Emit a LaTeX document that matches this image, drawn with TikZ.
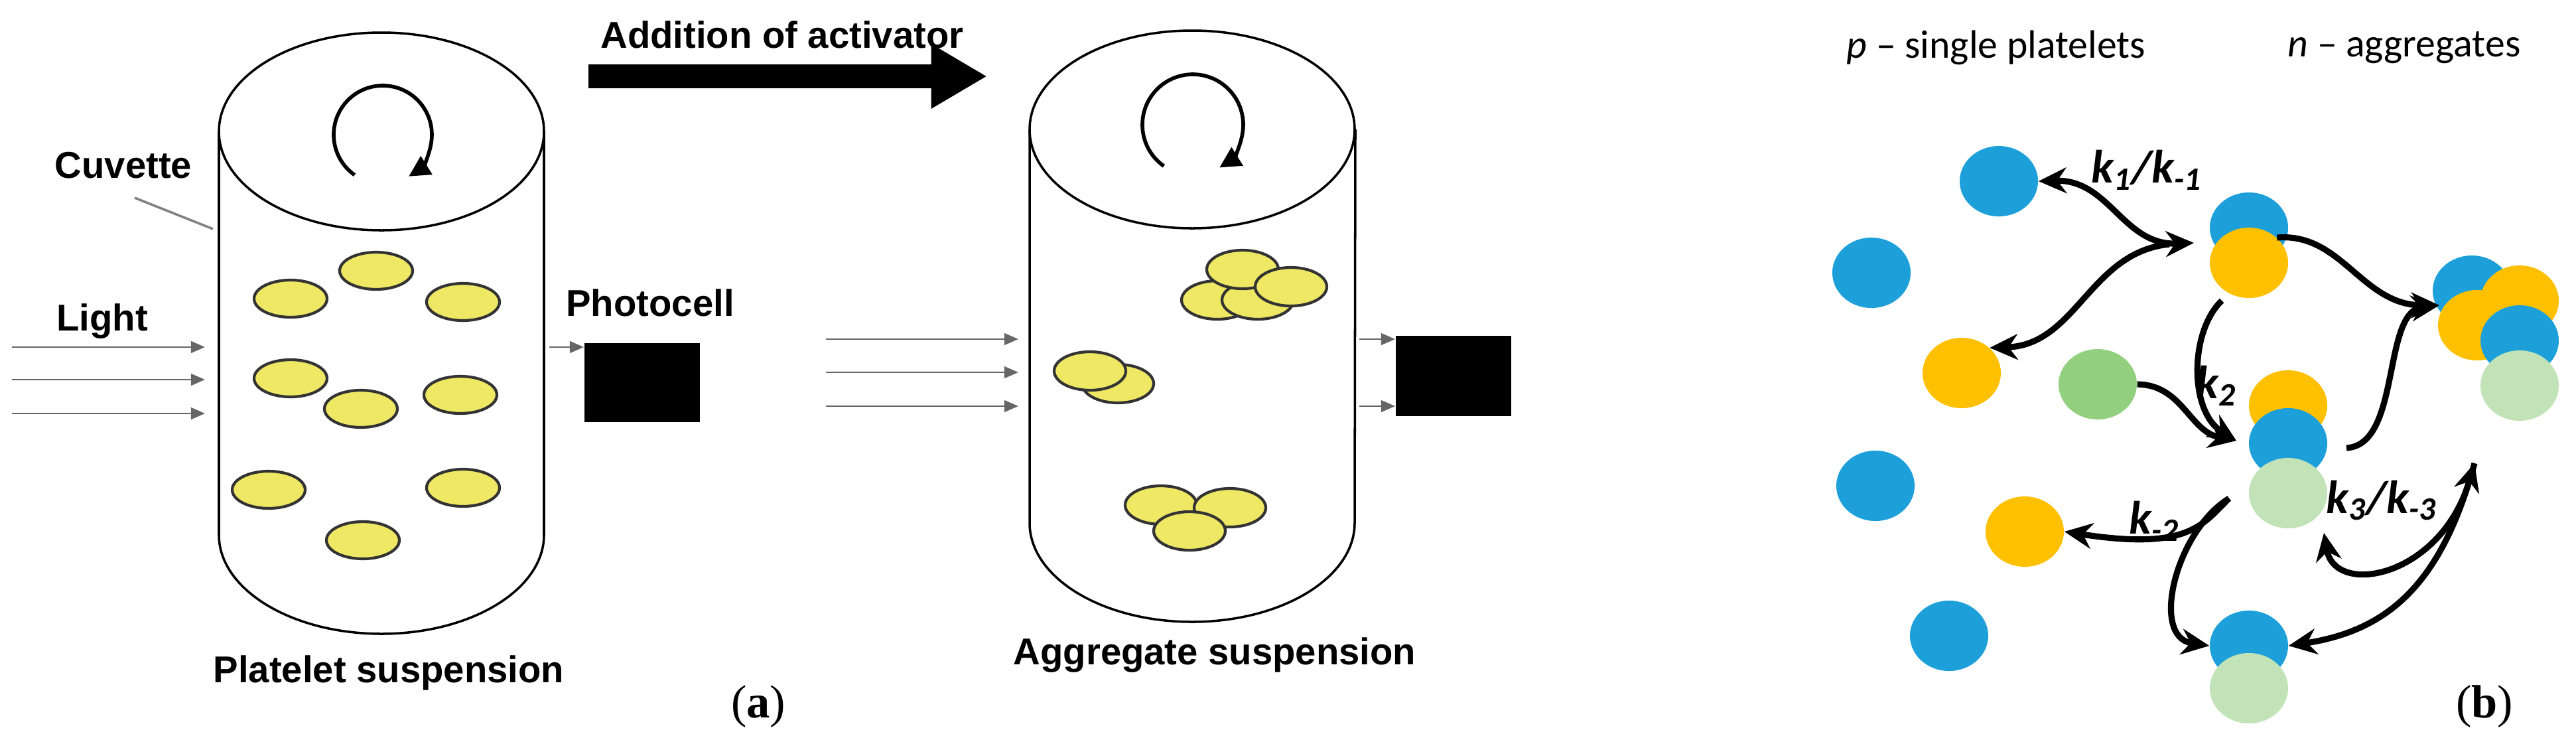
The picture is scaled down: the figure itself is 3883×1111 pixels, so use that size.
\documentclass[tikz,border=0pt]{standalone}
\usepackage{fontspec}
\setmainfont{Liberation Sans}
\newfontfamily\calib{Carlito}
\newfontfamily\serifb{Liberation Serif}
\usetikzlibrary{arrows.meta,shapes.geometric}
\definecolor{pblue}{RGB}{29,160,218}
\definecolor{pyel}{RGB}{255,192,0}
\definecolor{pgreen}{RGB}{146,208,128}
\definecolor{plgreen}{RGB}{193,227,183}
\definecolor{plt}{RGB}{238,232,100}
\begin{document}
\begin{tikzpicture}[x=0.01cm,y=-0.01cm,
  lbl/.style={font=\fontsize{16}{18}\selectfont\bfseries},
  plate/.style={draw=black!80,line width=1.2pt,fill=plt},
  cell/.style={ellipse,minimum width=1.18cm,minimum height=1.06cm,inner sep=0pt},
  rx/.style={line width=2.6pt,-{Stealth[length=12pt,width=11pt]}},
  rxx/.style={line width=2.6pt,{Stealth[length=12pt,width=11pt]}-{Stealth[length=12pt,width=11pt]}},
  light/.style={draw=black!60,line width=0.8pt,-{Triangle[length=6pt,width=5pt]}},
  klab/.style={font=\calib\fontsize{20}{22}\selectfont\bfseries\itshape}]
\useasboundingbox (0,0) rectangle (3883,1111);
% ---------- cuvette 1
\draw[line width=1pt] (330,198) -- (330,806) arc[start angle=180,end angle=0,x radius=245,y radius=149] -- (820,198);
\draw[line width=1pt] (575,198) ellipse[x radius=245,y radius=149];
\draw[line width=1.6pt,-{Triangle[length=9pt,width=9pt]}] (577,203) ++(125:74) arc[start angle=125,end angle=418,radius=74];
\foreach \p in {(567,408),(438,450),(698,455),(438,570),(544,616),(694,595),(405,738),(698,735),(547,814)}
  \draw[plate] \p ellipse[x radius=55,y radius=28];
\node[lbl] (cuv) at (186,249) {Cuvette};
\coordinate (cuvA) at (203,298); \coordinate (cuvB) at (321,345);
\draw[black!50,line width=1pt] (cuvA) -- (cuvB);
\node[lbl] (light) at (154,484) {Light};
\foreach \yy in {523,572,623}{\coordinate (la) at (18,\yy); \coordinate (lb) at (309,\yy); \draw[light] (la) -- (lb);}
\node[lbl] (photo) at (980,456) {Photocell};
\node[fill=black,minimum width=1.74cm,minimum height=1.19cm,inner sep=0pt,anchor=north west] (box1) at (880,516) {};
\coordinate (pa) at (828,523); \draw[light] (pa) -- (box1.west|-pa);
\node[lbl] (ps) at (586,1014) {Platelet suspension};
% ---------- activator arrow
\node[lbl,anchor=west] (add) at (893,52) {Addition of activator};
\coordinate (a1) at (887,115); \coordinate (a2) at (1488,115);
\draw[line width=10pt,-{Triangle[length=24pt,width=26pt]}] (a1) -- (a2);
% ---------- cuvette 2
\draw[line width=1pt] (1552,195) -- (1552,788) arc[start angle=180,end angle=0,x radius=245,y radius=149] -- (2043,195);
\draw[line width=1pt] (1797,195) ellipse[x radius=245,y radius=149];
\draw[line width=1.6pt,-{Triangle[length=9pt,width=9pt]}] (1798,188) ++(125:76) arc[start angle=125,end angle=418,radius=76];
\foreach \p in {(1685,578),(1643,559),(1835,452),(1896,452),(1873,406),(1946,432),(1750,761),(1854,765),(1793,800)}
  \draw[plate] \p ellipse[x radius=54,y radius=29];
\foreach \yy in {511,561,612}{\coordinate (la) at (1245,\yy); \coordinate (lb) at (1535,\yy); \draw[light] (la) -- (lb);}
\node[fill=black,minimum width=1.74cm,minimum height=1.21cm,inner sep=0pt,anchor=north west] (box2) at (2103,505) {};
\foreach \yy in {511,612}{\coordinate (pa) at (2049,\yy); \draw[light] (pa) -- (box2.west|-pa);}
\node[lbl] (as) at (1831,987) {Aggregate suspension};
\node[font=\serifb\fontsize{20}{22}\selectfont] (la) at (1143,1065) {(\textbf{a})};
% ---------- part b
\node[font=\calib\fontsize{17}{19}\selectfont] (tp) at (3009,72) {\textit{p} \textendash{} single platelets};
\node[font=\calib\fontsize{17}{19}\selectfont] (tn) at (3624,72) {\textit{n} \textendash{} aggregates};
\node[cell,fill=pblue] (s1) at (3013,273) {};
\node[cell,fill=pblue] (s2) at (2821,411) {};
\node[cell,fill=pyel] (s3) at (2957,562) {};
\node[cell,fill=pgreen] (s4) at (3162,579) {};
\node[cell,fill=pblue] (s5) at (2827,732) {};
\node[cell,fill=pyel] (s6) at (3052,801) {};
\node[cell,fill=pblue] (s7) at (2938,958) {};
\node[cell,fill=pblue] (d1a) at (3390,343) {};
\node[cell,fill=pyel] (d1b) at (3390,396) {};
\node[cell,fill=pyel] (t1) at (3449,611) {};
\node[cell,fill=pblue] (t2) at (3449,668) {};
\node[cell,fill=plgreen] (t3) at (3449,743) {};
\node[cell,fill=pblue] (d2a) at (3390,973) {};
\node[cell,fill=plgreen] (d2b) at (3390,1037) {};
\node[cell,fill=pblue] (g1) at (3726,438) {};
\node[cell,fill=pyel] (g2) at (3734,490) {};
\node[cell,fill=pyel] (g3) at (3798,453) {};
\node[cell,fill=pblue] (g4) at (3798,513) {};
\node[cell,fill=plgreen] (g5) at (3798,581) {};
\node[klab] (k1) at (3236,256) {k\textsubscript{1}/k\textsubscript{-1}};
\node[klab] (k2) at (3341,581) {k\textsubscript{2}};
\node[klab] (km2) at (3247,785) {k\textsubscript{-2}};
\node[klab] (k3) at (3590,754) {k\textsubscript{3}/k\textsubscript{-3}};
\coordinate (j1) at (3307,366);
\coordinate (j2) at (3371,664);
\coordinate (j3) at (3677,460);
\coordinate (j4) at (3730,698);
\coordinate (j5) at (3360,751);
\coordinate (j6) at (3503,803);
\draw[rxx] (s1.east) .. controls (3180,270) and (3200,370) .. (j1);
\draw[rx] (3270,368) .. controls (3150,380) and (3130,520) .. (s3.north east);
\draw[rx] (3349,453) .. controls (3300,500) and (3300,620) .. (j2);
\draw[rx] (s4.east) .. controls (3290,580) and (3300,650) .. (j2);
\draw[rx] (d1b.north east) .. controls (3530,350) and (3560,460) .. (j3);
\draw[rx] (3537,675) .. controls (3620,670) and (3590,470) .. (j3);
\draw[rx] (j5) .. controls (3320,790) and (3300,830) .. (s6.east);
\draw[rx] (j5) .. controls (3280,800) and (3240,960) .. (d2a.west);
\draw[rxx] (j6) .. controls (3520,900) and (3680,870) .. (j4);
\draw[rx] (j4) .. controls (3680,880) and (3600,950) .. (d2a.east);
\node[font=\serifb\fontsize{20}{22}\selectfont] (lb) at (3745,1065) {(\textbf{b})};
\end{tikzpicture}
\end{document}
